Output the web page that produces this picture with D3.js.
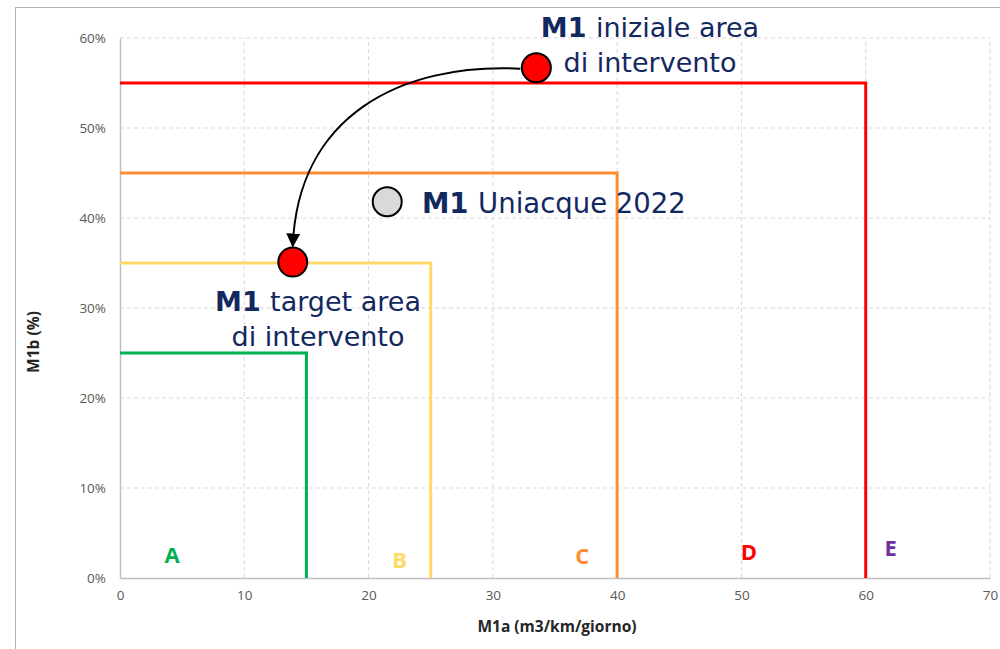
<!DOCTYPE html>
<html>
<head>
<meta charset="utf-8">
<script src="https://cdn.jsdelivr.net/npm/d3@7"></script>
<style>
  body { margin: 0; background: #fff; }
  .tick text { font-family: "Open Sans", "DejaVu Sans", sans-serif; font-size: 13.5px; fill: #595959; }
  .ann { font-family: "DejaVu Sans", sans-serif; fill: #13285f; }
</style>
</head>
<body>
<div id="chart"></div>
<script>
// Class boundaries: x limit (m3/km/giorno), y limit (%)
const classes = ["A", "B", "C", "D", "E"];
const limitsX = [15, 25, 40, 60];
const limitsY = [0.25, 0.35, 0.45, 0.55];
const classColors = ["#00B050", "#FFD966", "#FF8C2E", "#FF0000", "#7030A0"];
// letter positions (baseline)
const labelX = [4.2, 22.5, 37.2, 50.6, 62];
const labelY = [0.017, 0.011, 0.0156, 0.02, 0.0244];

// Points
const pointNames = ["iniziale", "uniacque", "target"];
const pointX = [33.5, 21.5, 13.9];
const pointY = [0.567, 0.418, 0.351];
const pointFill = ["#FF0000", "#D9D9D9", "#FF0000"];

const xTicks = [0, 10, 20, 30, 40, 50, 60, 70];
const yTicks = [0, 0.1, 0.2, 0.3, 0.4, 0.5, 0.6];

const width = 1000, height = 649;

const svg = d3.select("#chart").append("svg")
    .attr("width", width).attr("height", height);

// outer border
svg.append("rect")
    .attr("x", 15.5).attr("y", 7.5)
    .attr("width", 1000).attr("height", 700)
    .attr("fill", "none").attr("stroke", "#b3b3b3").attr("stroke-width", 1);

const x = d3.scaleLinear().domain([0, 70]).range([120, 990]);
const y = d3.scaleLinear().domain([0, 0.6]).range([578, 38]);

// grid
svg.append("g").selectAll("line")
    .data(yTicks.slice(1)).enter().append("line")
    .attr("x1", x(0)).attr("x2", x(70))
    .attr("y1", d => y(d)).attr("y2", d => y(d))
    .attr("stroke", "#d9d9d9").attr("stroke-dasharray", "4,3");
svg.append("g").selectAll("line")
    .data(xTicks.slice(1)).enter().append("line")
    .attr("x1", d => x(d)).attr("x2", d => x(d))
    .attr("y1", y(0)).attr("y2", y(0.6))
    .attr("stroke", "#d9d9d9").attr("stroke-dasharray", "4,3");

// axes
const xAxis = svg.append("g").attr("transform", `translate(0,${y(0)})`)
    .call(d3.axisBottom(x).tickValues(xTicks).tickSize(0).tickPadding(12));
xAxis.select(".domain").attr("stroke", "#bfbfbf").attr("stroke-width", 1.5);

const yAxis = svg.append("g").attr("transform", `translate(${x(0)},0)`)
    .call(d3.axisLeft(y).tickValues(yTicks).tickSize(0).tickPadding(14).tickFormat(d3.format(".0%")));
yAxis.select(".domain").attr("stroke", "#bfbfbf").attr("stroke-width", 1.5);

svg.append("text")
    .attr("x", 557).attr("y", 632)
    .attr("text-anchor", "middle")
    .style("font-family", "'Open Sans', sans-serif").style("font-weight", "bold")
    .style("font-size", "15.5px").attr("fill", "#262626")
    .text("M1a (m3/km/giorno)");

svg.append("text")
    .attr("transform", `translate(39,${y(0.3) + 34}) rotate(-90)`)
    .attr("text-anchor", "middle")
    .style("font-family", "'Open Sans', sans-serif").style("font-weight", "bold")
    .style("font-size", "15.5px").attr("fill", "#262626")
    .text("M1b (%)");

// class boundaries
svg.append("g").selectAll("path")
    .data(limitsX).enter().append("path")
    .attr("d", (d, i) => `M${x(0)},${y(limitsY[i])}H${x(d)}V${y(0)}`)
    .attr("fill", "none")
    .attr("stroke", (d, i) => classColors[i])
    .attr("stroke-width", 3);

// class letters
svg.append("g").selectAll("text")
    .data(classes).enter().append("text")
    .attr("x", (d, i) => x(labelX[i])).attr("y", (d, i) => y(labelY[i]))
    .attr("text-anchor", "middle")
    .style("font-family", "'Open Sans', sans-serif").style("font-weight", "bold")
    .style("font-size", "22px")
    .attr("fill", (d, i) => classColors[i])
    .text(d => d);

// arrow
svg.append("defs").append("marker")
    .attr("id", "arr").attr("viewBox", "0 0 10 10")
    .attr("refX", 9).attr("refY", 5)
    .attr("markerWidth", 7).attr("markerHeight", 7)
    .attr("orient", "auto")
    .append("path").attr("d", "M0,0L10,5L0,10Z").attr("fill", "#000");

const p0 = [x(pointX[0]) - 16, y(pointY[0]) + 1];
const p2 = [x(pointX[2]), y(pointY[2]) - 16];
svg.append("path")
    .attr("d", `M${p0[0]},${p0[1]}C${p0[0] - 120},${p0[1] - 6} ${p2[0] + 5},${p2[1] - 130} ${p2[0]},${p2[1]}`)
    .attr("fill", "none").attr("stroke", "#000").attr("stroke-width", 2)
    .attr("marker-end", "url(#arr)");

// points
svg.append("g").selectAll("circle")
    .data(pointNames).enter().append("circle")
    .attr("cx", (d, i) => x(pointX[i])).attr("cy", (d, i) => y(pointY[i]))
    .attr("r", 14.5)
    .attr("fill", (d, i) => pointFill[i])
    .attr("stroke", "#000").attr("stroke-width", 2);

// annotations
function ann(cx, by, lines, size) {
  const t = svg.append("text").attr("class", "ann")
      .attr("text-anchor", "middle").style("font-size", size + "px");
  lines.forEach((ln, i) => {
    const ts = t.append("tspan").attr("x", cx).attr("y", by + i * 35);
    if (ln[0]) ts.append("tspan").style("font-weight", "bold").text(ln[0] + " ");
    ts.append("tspan").text(ln[1]);
  });
}
ann(650, 37, [["M1", "iniziale area"], ["", "di intervento"]], 27);
ann(318, 311, [["M1", "target area"], ["", "di intervento"]], 27);
svg.append("text").attr("class", "ann")
    .attr("x", 422).attr("y", 213).style("font-size", "27.5px")
    .call(t => {
      t.append("tspan").style("font-weight", "bold").text("M1 ");
      t.append("tspan").text("Uniacque 2022");
    });
</script>
</body>
</html>
